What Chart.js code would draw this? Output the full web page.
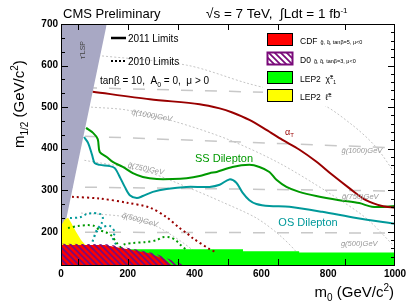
<!DOCTYPE html>
<html>
<head>
<meta charset="utf-8">
<script src="https://cdn.jsdelivr.net/npm/chart.js@4.4.0/dist/chart.umd.min.js"></script>
<style>
  html, body { margin: 0; padding: 0; background: #fff; }
  #wrap { width: 406px; height: 306px; }
</style>
</head>
<body>
<div id="wrap"><canvas id="c" width="406" height="306"></canvas></div>
<script>
// axis ranges and tick labels
const xRange = [0, 1000];
const yRange = [120, 700];
const xTickLabels = [0, 200, 400, 600, 800, 1000];
const yTickLabels = [200, 300, 400, 500, 600, 700];
const xTickMarks = [50, 200, 350, 500, 650, 850];

// 2011 limits
const alphaTX = [95, 266, 415, 475, 513, 564, 615, 663, 713, 764, 812, 863, 913, 961, 1000];
const alphaTY = [537, 519, 507, 497, 487, 469, 445, 421, 398, 369, 337, 305, 276, 262, 258];
const ssX = [75, 96, 110, 116, 137, 155, 185, 215, 245, 287, 334, 376, 415, 445, 466, 513, 564, 594, 624, 645, 675, 713, 764, 833, 893, 931, 973, 1000];
const ssY = [450, 438, 423, 392, 380, 368, 356, 341, 332, 327, 327, 329, 334, 341, 344, 356, 361, 356, 344, 325, 308, 296, 286, 276, 269, 260, 260, 262];
const osX = [69, 81, 93, 101, 116, 146, 161, 176, 191, 206, 227, 245, 275, 316, 376, 445, 475, 504, 525, 543, 564, 585, 624, 684, 782, 884, 1000];
const osY = [428, 414, 385, 365, 361, 358, 353, 332, 308, 288, 281, 286, 296, 303, 308, 308, 313, 326, 318, 295, 276, 267, 262, 260, 248, 233, 219];

// 2010 limits
const alphaT10X = [33, 116, 197, 266, 316, 355, 376, 394, 445, 460];
const alphaT10Y = [284, 280, 270, 258, 235, 209, 197, 185, 158, 152];
const ss10X = [21, 51, 81, 99, 116, 134, 152, 167, 179, 191, 215, 251, 287, 304, 325, 343, 358, 373];
const ss10Y = [209, 214, 216, 214, 204, 199, 190, 173, 163, 170, 173, 175, 180, 187, 187, 180, 168, 158];
const os10X = [27, 57, 78, 96, 116, 125, 122, 107, 93, 107, 125, 146, 161, 155, 170];
const os10Y = [233, 235, 243, 245, 243, 235, 221, 204, 173, 200, 211, 214, 199, 185, 163];

// excluded regions
const tauLspX = [0, 137];
const tauLspY = [170, 700];
const lepSleptonX = [0, 10, 21, 30, 45, 60, 73, 78];
const lepSleptonY = [214, 228, 234, 222, 200, 180, 168, 120];
const lepCharginoX = [0, 545, 545, 713, 713, 1000];
const lepCharginoY = [158, 158, 153, 153, 150, 150];
const cdfX = [0, 130, 200, 265, 310, 330];
const cdfY = [168, 168, 158, 148, 134, 120];
const d0X = [0, 140, 210, 280, 330, 370];
const d0Y = [171, 170, 160, 148, 132, 120];

// iso-mass lines
const gluino500Y = [199, 197];
const gluino750Y = [308, 298];
const gluino1000Y = [432, 402];
const gluino1250Y = [548, 528];
const gluinoX = [0, 1000];
const squarkAX = [100, 376, 555, 773, 872, 943, 1000];
const squarkAY = [625, 601, 558, 510, 457, 404, 340];
const squarkBX = [90, 197, 346, 504, 654, 803, 913, 1000];
const squarkBY = [500, 493, 464, 421, 365, 293, 233, 163];
const squarkCX = [70, 254, 385, 484, 585, 654, 705, 728];
const squarkCY = [372, 345, 305, 271, 233, 192, 151, 120];
const squarkDX = [60, 176, 236, 296, 394, 430];
const squarkDY = [245, 238, 228, 209, 156, 120];

const FONT = "'Liberation Sans', Arial, Helvetica, sans-serif";

function pts(xs, ys) {
    return xs.map((x, i) => ({ x: x, y: ys[i] }));
}

// purple diagonal hatching for the D0 region
function makeHatch(bg) {
    const c = document.createElement('canvas');
    c.width = 6; c.height = 6;
    const g = c.getContext('2d');
    if (bg) { g.fillStyle = bg; g.fillRect(0, 0, 6, 6); }
    g.strokeStyle = '#7a0a7a';
    g.lineWidth = 1.7;
    g.beginPath();
    g.moveTo(-1, -1); g.lineTo(7, 7);
    g.moveTo(-1, 5); g.lineTo(1, 7);
    g.moveTo(5, -1); g.lineTo(7, 1);
    g.stroke();
    return g.createPattern(c, 'repeat');
}
const ctx0 = document.getElementById('c').getContext('2d');
const hatch = makeHatch(null);
const hatchLegend = makeHatch('#ffffff');

function curve(xs, ys, color, width, dash, order, tension) {
    return {
        data: pts(xs, ys),
        borderColor: color,
        borderWidth: width,
        borderDash: dash,
        pointRadius: 0,
        fill: false,
        tension: tension,
        order: order
    };
}

function region(xs, ys, color, fillTo, order) {
    return {
        data: pts(xs, ys),
        borderWidth: 0,
        borderColor: 'rgba(0,0,0,0)',
        backgroundColor: color,
        pointRadius: 0,
        fill: fillTo,
        tension: 0,
        order: order
    };
}

// text with sub/superscripts: parts = [text, size, dy, style]
function rich(ctx, x, y, parts, align) {
    let w = 0;
    parts.forEach(p => {
        ctx.font = (p[3] || '') + ' ' + p[1] + 'px ' + FONT;
        w += ctx.measureText(p[0]).width;
    });
    let cx = align === 'right' ? x - w : (align === 'center' ? x - w / 2 : x);
    ctx.textAlign = 'left';
    parts.forEach(p => {
        ctx.font = (p[3] || '') + ' ' + p[1] + 'px ' + FONT;
        ctx.fillText(p[0], cx, y + (p[2] || 0));
        cx += ctx.measureText(p[0]).width;
    });
}

const legendPlugin = {
    id: 'legendPlugin',
    afterDatasetsDraw(chart) {
        const ctx = chart.ctx;
        ctx.save();
        // white legend box top right
        ctx.fillStyle = '#ffffff';
        ctx.fillRect(263, 25, 131, 81);
        const boxes = [
            { y: 33, fill: '#ff0000', border: '#000000', lw: 1 },
            { y: 52, fill: hatchLegend, border: '#7a0a7a', lw: 2 },
            { y: 71, fill: '#00ff00', border: '#000000', lw: 1 },
            { y: 89, fill: '#ffff00', border: '#000000', lw: 1 }
        ];
        boxes.forEach(b => {
            ctx.fillStyle = b.fill;
            ctx.fillRect(267, b.y, 26, 13);
            ctx.strokeStyle = b.border;
            ctx.lineWidth = b.lw;
            ctx.strokeRect(267.5, b.y + 0.5, 25, 12);
        });
        ctx.fillStyle = '#000000';
        ctx.textBaseline = 'alphabetic';
        rich(ctx, 300, 44, [['CDF', 8.5], ['  g\u0303, q\u0303, tan\u03b2=5, \u03bc<0', 5.5]], 'left');
        rich(ctx, 300, 63, [['D0', 8.5], ['  g\u0303, q\u0303, tan\u03b2=3, \u03bc<0', 5.5]], 'left');
        rich(ctx, 300, 82, [['LEP2  \u03c7\u0303', 8.5], ['\u00b1', 6, -3], ['1', 5, 2]], 'left');
        rich(ctx, 300, 100, [['LEP2  \u2113\u0303', 8.5], ['\u00b1', 6, -3]], 'left');

        // left legend
        ctx.strokeStyle = '#000000';
        ctx.lineWidth = 2.5;
        ctx.setLineDash([]);
        ctx.beginPath(); ctx.moveTo(111, 38); ctx.lineTo(126, 38); ctx.stroke();
        ctx.lineWidth = 2;
        ctx.setLineDash([2, 2]);
        ctx.beginPath(); ctx.moveTo(111, 61); ctx.lineTo(126, 61); ctx.stroke();
        ctx.setLineDash([]);
        rich(ctx, 128, 42, [['2011 Limits', 10]], 'left');
        rich(ctx, 128, 65, [['2010 Limits', 10]], 'left');
        rich(ctx, 100, 84, [['tan\u03b2 = 10,  A', 10], ['0', 7, 3], [' = 0,  \u03bc > 0', 10]], 'left');
        ctx.restore();
    }
};

const framePlugin = {
    id: 'framePlugin',
    afterDraw(chart) {
        const ctx = chart.ctx;
        const a = chart.chartArea;
        const xs = chart.scales.x, ys = chart.scales.y;
        ctx.save();
        ctx.setLineDash([]);

        // curve labels
        ctx.fillStyle = '#999999';
        const isoLabels = [
            ['q\u0303(1000)GeV', 272, 479, 10],
            ['q\u0303(750)GeV', 254, 351, 12],
            ['q\u0303(500)GeV', 236, 228, 15],
            ['g\u0303(1000)GeV', 901, 394, 0],
            ['g\u0303(750)GeV', 896, 284, 0],
            ['g\u0303(500)GeV', 893, 170, 0]
        ];
        isoLabels.forEach(l => {
            ctx.save();
            ctx.translate(xs.getPixelForValue(l[1]), ys.getPixelForValue(l[2]));
            ctx.rotate(l[3] * Math.PI / 180);
            ctx.textBaseline = 'middle';
            rich(ctx, 0, 0, [[l[0], 7.5, 0, 'italic']], 'center');
            ctx.restore();
        });

        // tau LSP label
        ctx.save();
        ctx.fillStyle = '#444444';
        ctx.translate(83, 50);
        ctx.rotate(-Math.PI / 2);
        ctx.textBaseline = 'middle';
        rich(ctx, 0, 0, [['\u03c4\u0303 LSP', 7]], 'center');
        ctx.restore();

        ctx.textBaseline = 'alphabetic';
        ctx.fillStyle = '#990000';
        rich(ctx, 285, 135, [['\u03b1', 9], ['T', 6, 2]], 'left');
        ctx.fillStyle = '#009900';
        rich(ctx, 224, 162, [['SS Dilepton', 11]], 'center');
        ctx.fillStyle = '#00999a';
        rich(ctx, 308, 226, [['OS Dilepton', 11]], 'center');

        // frame
        ctx.strokeStyle = '#000000';
        ctx.lineWidth = 1;
        ctx.strokeRect(a.left + 0.5, a.top + 0.5, a.right - a.left - 1, a.bottom - a.top);

        ctx.beginPath();
        xTickMarks.forEach(v => {
            const px = Math.round(xs.getPixelForValue(v)) + 0.5;
            ctx.moveTo(px, a.bottom); ctx.lineTo(px, a.bottom - 6);
            ctx.moveTo(px, a.top); ctx.lineTo(px, a.top + 6);
        });
        for (let k = 4; k <= 17; k++) {
            const v = 100 + k * 100 / 3;
            const py = Math.round(ys.getPixelForValue(v)) + 0.5;
            const major = k % 3 === 0;
            ctx.moveTo(a.left, py); ctx.lineTo(a.left + (major ? 7 : 4), py);
        }
        for (let v = 140; v <= 700; v += 20) {
            const py = Math.round(ys.getPixelForValue(v)) + 0.5;
            const major = v % 100 === 0;
            ctx.moveTo(a.right, py); ctx.lineTo(a.right - (major ? 7 : 4), py);
        }
        ctx.stroke();

        // tick labels
        ctx.fillStyle = '#000000';
        ctx.font = 'bold 10px ' + FONT;
        ctx.textBaseline = 'middle';
        ctx.textAlign = 'right';
        yTickLabels.forEach(v => ctx.fillText(String(v), a.left - 3, ys.getPixelForValue(v)));
        ctx.textAlign = 'center';
        ctx.textBaseline = 'top';
        xTickLabels.forEach(v => ctx.fillText(String(v), xs.getPixelForValue(v), a.bottom + 4));

        // titles
        ctx.textBaseline = 'alphabetic';
        rich(ctx, 63, 18, [['CMS Preliminary', 13]], 'left');
        rich(ctx, 206, 18, [['\u221as = 7 TeV,  \u222bLdt = 1 fb', 13.5], ['-1', 8, -5]], 'left');
        rich(ctx, 394, 297, [['m', 15], ['0', 10, 4], [' (GeV/c', 15], ['2', 10, -6], [')', 15]], 'right');
        ctx.save();
        ctx.translate(24, 148);
        ctx.rotate(-Math.PI / 2);
        rich(ctx, 0, 0, [['m', 15], ['1/2', 10, 4], [' (GeV/c', 15], ['2', 10, -6], [')', 15]], 'left');
        ctx.restore();
        ctx.restore();
    }
};

const dataSets = [
    // gluino iso-mass lines
    curve(gluinoX, gluino500Y, '#c8c8c8', 1.5, [12, 12], 30, 0),
    curve(gluinoX, gluino750Y, '#c8c8c8', 1.5, [12, 12], 30, 0),
    curve(gluinoX, gluino1000Y, '#c8c8c8', 1.5, [12, 12], 30, 0),
    curve(gluinoX, gluino1250Y, '#c8c8c8', 1.5, [12, 12], 30, 0),
    // squark iso-mass curves
    curve(squarkAX, squarkAY, '#c4c4c4', 1, [2, 2], 29, 0.3),
    curve(squarkBX, squarkBY, '#c4c4c4', 1, [2, 2], 29, 0.3),
    curve(squarkCX, squarkCY, '#c4c4c4', 1, [2, 2], 29, 0.3),
    curve(squarkDX, squarkDY, '#c4c4c4', 1, [2, 2], 29, 0.3),
    // regions
    region(tauLspX, tauLspY, '#a8a8c4', 'end', 20),
    region(lepCharginoX, lepCharginoY, '#00ff00', 'start', 19),
    region(lepSleptonX, lepSleptonY, '#ffff00', 'start', 18),
    region(cdfX, cdfY, '#ff0000', 'start', 17),
    region(d0X, d0Y, hatch, 'start', 16),
    // 2010 limits
    curve(alphaT10X, alphaT10Y, '#990000', 2, [2, 3], 10, 0.3),
    curve(ss10X, ss10Y, '#009900', 2, [2, 3], 10, 0.3),
    curve(os10X, os10Y, '#00999a', 2, [2, 3], 10, 0.3),
    // 2011 limits
    curve(alphaTX, alphaTY, '#990000', 2, [], 1, 0.3),
    curve(ssX, ssY, '#009900', 2, [], 1, 0.3),
    curve(osX, osY, '#00999a', 2, [], 1, 0.3)
];

new Chart(ctx0, {
    type: 'line',
    data: { datasets: dataSets },
    options: {
        responsive: false,
        animation: false,
        devicePixelRatio: 1,
        events: [],
        layout: { padding: { left: 61, right: 11, top: 24, bottom: 41 } },
        scales: {
            x: { type: 'linear', min: xRange[0], max: xRange[1], display: false },
            y: { type: 'linear', min: yRange[0], max: yRange[1], display: false }
        },
        plugins: { legend: { display: false }, tooltip: { enabled: false } }
    },
    plugins: [legendPlugin, framePlugin]
});
</script>
</body>
</html>
